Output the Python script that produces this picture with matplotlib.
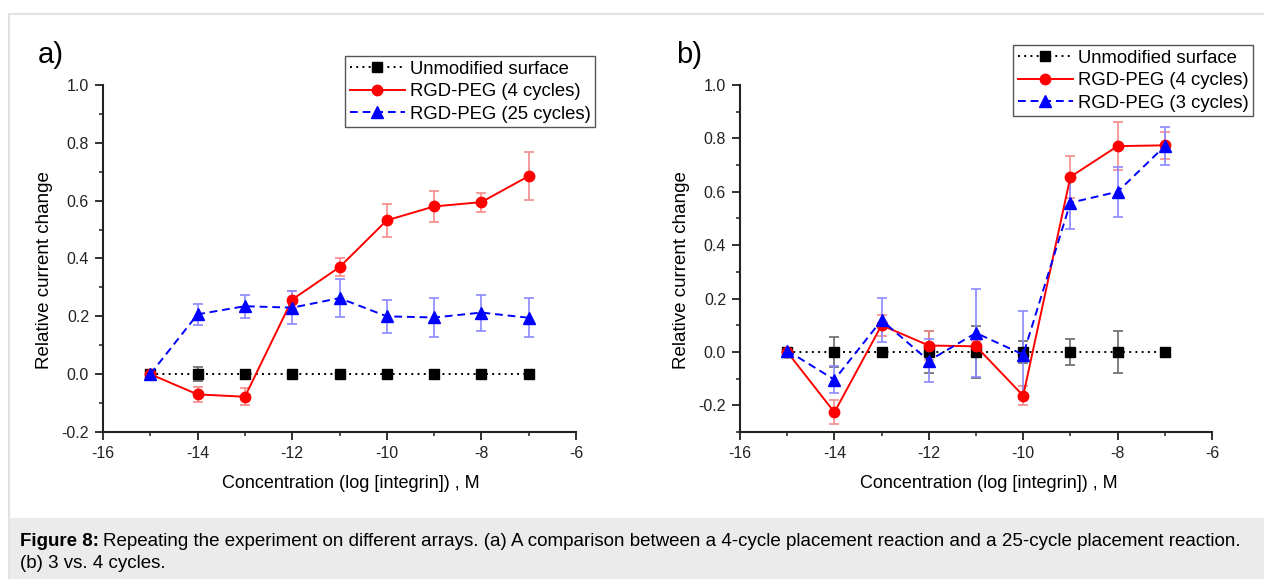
import numpy as np
import matplotlib
matplotlib.use("Agg")
import matplotlib.pyplot as plt
from matplotlib.ticker import MultipleLocator
from matplotlib.patches import Rectangle
from matplotlib.lines import Line2D

plt.rcParams['font.family'] = ['Liberation Sans', 'DejaVu Sans']

# concentration, log M
conc = [-15, -14, -13, -12, -11, -10, -9, -8, -7]

# panel a
a_unmod = [0, 0, 0, 0, 0, 0, 0, 0, 0]
a_unmod_err = [0, 0.025, 0.015, 0, 0, 0, 0, 0, 0]
a_peg4 = [0, -0.070, -0.078, 0.258, 0.370, 0.532, 0.580, 0.595, 0.685]
a_peg4_err = [0, 0.025, 0.030, 0.030, 0.030, 0.057, 0.055, 0.033, 0.083]
a_peg25 = [0, 0.207, 0.235, 0.230, 0.263, 0.200, 0.196, 0.213, 0.195]
a_peg25_err = [0, 0.037, 0.040, 0.058, 0.066, 0.058, 0.067, 0.062, 0.067]

# panel b
b_unmod = [0, 0, 0, 0, 0, 0, 0, 0, 0]
b_unmod_err = [0, 0.056, 0.015, 0.078, 0.096, 0.040, 0.049, 0.080, 0.015]
b_peg4 = [0, -0.226, 0.100, 0.024, 0.021, -0.164, 0.656, 0.771, 0.774]
b_peg4_err = [0, 0.045, 0.040, 0.054, 0.020, 0.035, 0.079, 0.090, 0.050]
b_peg3 = [0.005, -0.104, 0.119, -0.033, 0.071, -0.010, 0.559, 0.600, 0.771]
b_peg3_err = [0, 0.050, 0.083, 0.080, 0.164, 0.165, 0.100, 0.094, 0.070]

labels_a = ['Unmodified surface', 'RGD-PEG (4 cycles)', 'RGD-PEG (25 cycles)']
labels_b = ['Unmodified surface', 'RGD-PEG (4 cycles)', 'RGD-PEG (3 cycles)']

W, H = 1264, 579
fig = plt.figure(figsize=(W / 100, H / 100), dpi=100)

# page frame and caption box
fig.add_artist(Line2D([9 / W, 1], [1 - 14 / H] * 2, color='#e2e2e2', lw=1.5))
fig.add_artist(Line2D([9 / W] * 2, [0, 1 - 14 / H], color='#e2e2e2', lw=1.5))
fig.add_artist(Rectangle((10 / W, 0), 1, 61 / H, color='#ebebeb', lw=0))

styles = [
    dict(color='black', ecolor='#6a6a6a', marker='s', ms=6.5, ls=(0, (1, 2.2))),
    dict(color='#ff0000', ecolor='#f58a8a', marker='o', ms=7.5, ls='-'),
    dict(color='#0000ff', ecolor='#8a8aff', marker='^', ms=8, ls=(0, (4, 2.5))),
]


def panel(rect, series, labels, ylim, letter, leg_xy, xlab_x):
    ax = fig.add_axes(rect)
    for (y, err), st in zip(series, styles):
        ax.errorbar(conc, y, yerr=err, color=st['color'], ecolor=st['ecolor'],
                    marker=st['marker'], ms=st['ms'], ls=st['ls'], lw=1.4,
                    elinewidth=1.2, capsize=3.5, capthick=1.2)
    ax.set_xlim(-16, -6)
    ax.set_ylim(*ylim)
    ax.xaxis.set_major_locator(MultipleLocator(2))
    ax.xaxis.set_minor_locator(MultipleLocator(1))
    ax.yaxis.set_major_locator(MultipleLocator(0.2))
    ax.yaxis.set_minor_locator(MultipleLocator(0.1))
    ax.yaxis.set_major_formatter(lambda v, p: f"{v:.1f}")
    ax.xaxis.set_major_formatter(lambda v, p: f"{v:.0f}")
    for s in ['top', 'right']:
        ax.spines[s].set_visible(False)
    for s in ['left', 'bottom']:
        ax.spines[s].set_linewidth(1.5)
        ax.spines[s].set_color('#222222')
    ax.tick_params(which='major', direction='out', length=6, width=1.3,
                   labelsize=11.5, colors='#222222', pad=4)
    ax.tick_params(which='minor', direction='out', length=3, width=1.1,
                   colors='#222222')
    ax.set_xlabel('Concentration (log [integrin]) , M', fontsize=13)
    ax.set_ylabel('Relative current change', fontsize=13.5)
    ax.xaxis.set_label_coords(xlab_x, -0.124)
    ax.yaxis.set_label_coords(-0.105, 0.467)

    handles = [Line2D([], [], color=st['color'], marker=st['marker'],
                      ms=st['ms'], ls=st['ls'], lw=1.4) for st in styles]
    leg = fig.legend(handles, labels, loc='upper left',
                     bbox_to_anchor=(leg_xy[0] / W, 1 - leg_xy[1] / H),
                     fontsize=13.3, frameon=True, fancybox=False, framealpha=1,
                     edgecolor='#555555', handlelength=3.0, handletextpad=0.25,
                     borderpad=0.25, labelspacing=0.3, borderaxespad=0)
    leg.get_frame().set_linewidth(1.0)
    fig.text(letter[1] / W, 1 - letter[2] / H, letter[0], fontsize=21,
             ha='left', va='center')
    return ax


ax_h = (432 - 85) / H
panel([103 / W, 1 - 432 / H, (576 - 103) / W, ax_h],
      [(a_unmod, a_unmod_err), (a_peg4, a_peg4_err), (a_peg25, a_peg25_err)],
      labels_a, (-0.2, 1.0), ('a)', 38, 55), (345, 56), 0.524)
panel([740 / W, 1 - 432 / H, (1212 - 740) / W, ax_h],
      [(b_unmod, b_unmod_err), (b_peg4, b_peg4_err), (b_peg3, b_peg3_err)],
      labels_b, (-0.3, 1.0), ('b)', 676, 55), (1013, 45), 0.5275)

# caption
fig.canvas.draw()
r = fig.canvas.get_renderer()
t1 = fig.text(20 / W, 1 - 541 / H, 'Figure 8:', fontsize=13.5, fontweight='bold',
              va='center', ha='left')
bb = t1.get_window_extent(renderer=r)
fig.text((bb.x1 + 4) / W, 1 - 541 / H,
         'Repeating the experiment on different arrays. (a) A comparison between '
         'a 4-cycle placement reaction and a 25-cycle placement reaction.',
         fontsize=13.5, va='center', ha='left')
fig.text(20 / W, 1 - 564 / H, '(b) 3 vs. 4 cycles.', fontsize=13.5,
         va='center', ha='left')

fig.savefig('out.png', dpi=100)
